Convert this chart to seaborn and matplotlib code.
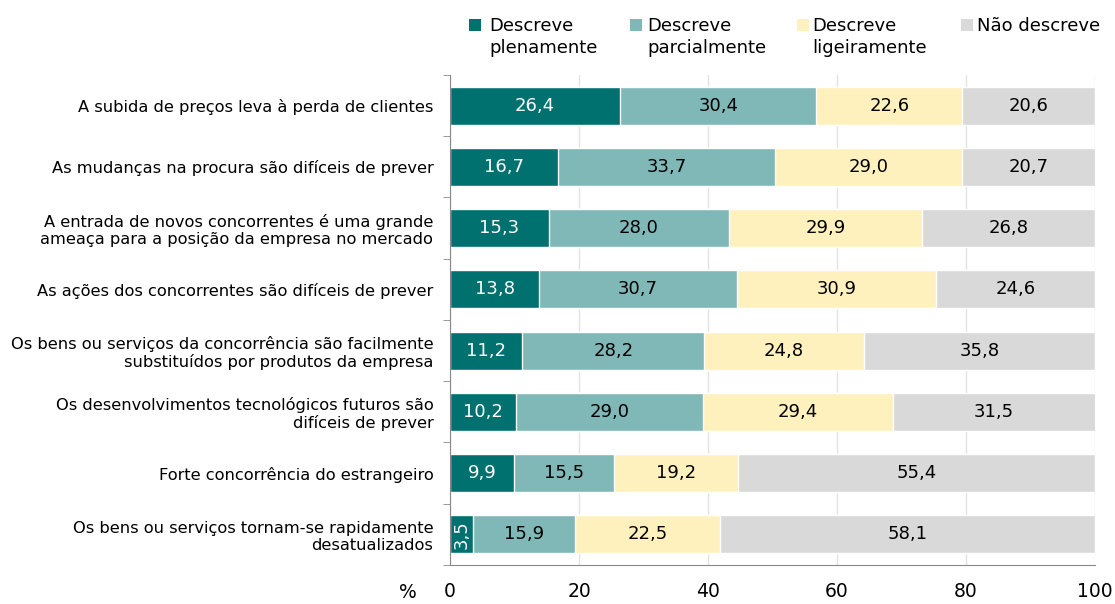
import numpy as np
import pandas as pd
import seaborn as sns
import matplotlib.pyplot as plt
from matplotlib.patches import Rectangle

# dados
categorias = [
    "A subida de preços leva à perda de clientes",
    "As mudanças na procura são difíceis de prever",
    "A entrada de novos concorrentes é uma grande\nameaça para a posição da empresa no mercado",
    "As ações dos concorrentes são difíceis de prever",
    "Os bens ou serviços da concorrência são facilmente\nsubstituídos por produtos da empresa",
    "Os desenvolvimentos tecnológicos futuros são\ndifíceis de prever",
    "Forte concorrência do estrangeiro",
    "Os bens ou serviços tornam-se rapidamente\ndesatualizados",
]
plenamente = [26.4, 16.7, 15.3, 13.8, 11.2, 10.2, 9.9, 3.5]
parcialmente = [30.4, 33.7, 28.0, 30.7, 28.2, 29.0, 15.5, 15.9]
ligeiramente = [22.6, 29.0, 29.9, 30.9, 24.8, 29.4, 19.2, 22.5]
nao_descreve = [20.6, 20.7, 26.8, 24.6, 35.8, 31.5, 55.4, 58.1]

series = ["Descreve\nplenamente", "Descreve\nparcialmente", "Descreve\nligeiramente", "Não descreve"]
cores = ["#00716F", "#80B8B7", "#FFF1BE", "#D9D9D9"]

df = pd.DataFrame({
    "cat": categorias,
    series[0]: plenamente,
    series[1]: parcialmente,
    series[2]: ligeiramente,
    series[3]: nao_descreve,
})
cum = df[series].cumsum(axis=1)

sns.set_style("white")
plt.rcParams["font.family"] = ["DejaVu Sans"]
plt.rcParams["text.color"] = "black"
plt.rcParams["xtick.labelcolor"] = "black"
plt.rcParams["ytick.labelcolor"] = "black"

W, H = 1115, 604
fig = plt.figure(figsize=(W / 100, H / 100), dpi=100)
ax = fig.add_axes([0.4036, 0.0646, 0.5785, 0.8114])

# barras empilhadas: desenhar do total acumulado para o primeiro
for s, c in reversed(list(zip(series, cores))):
    sns.barplot(x=cum[s], y=df["cat"], color=c, width=0.62, orient="h",
                ax=ax, saturation=1, zorder=2)

# etiquetas de valores
for i in range(len(df)):
    esq = 0
    for k, s in enumerate(series):
        v = df[s].iloc[i]
        txt = f"{v:.1f}".replace(".", ",")
        cor_txt = "white" if k == 0 else "black"
        rot = 90 if v < 5 else 0
        ax.text(esq + v / 2, i, txt, ha="center", va="center", rotation=rot,
                color=cor_txt, fontsize=13, zorder=3)
        esq += v

ax.set_xlim(0, 100)
ax.set_ylim(len(df) - 0.5, -0.5)
ax.set_xticks([0, 20, 40, 60, 80, 100])
ax.set_xlabel("")
ax.set_ylabel("")
ax.tick_params(axis="x", labelsize=13.5, length=5, color="#888888", pad=7)
ax.tick_params(axis="y", labelsize=11.7, length=0, pad=12)
ax.set_yticks(range(len(df)))
ax.set_yticklabels(categorias, linespacing=1.15)
ax.set_yticks(np.arange(-0.5, len(df), 1), minor=True)
ax.tick_params(axis="y", which="minor", length=5, color="#888888", left=True)
ax.grid(axis="x", color="#E3E3E3", linewidth=1, zorder=0)
ax.set_axisbelow(True)
for lado in ["top", "right"]:
    ax.spines[lado].set_visible(False)
for lado in ["left", "bottom"]:
    ax.spines[lado].set_color("#888888")

fig.text(408 / W, 1 - 592 / H, "%", fontsize=13.5, ha="center", va="center")

# legenda desenhada à mão (quadrado alinhado com a primeira linha)
leg_hx = [469, 630, 797, 961]
leg_tx = [489, 647, 812, 977]
for hx, tx, s, c in zip(leg_hx, leg_tx, series, cores):
    fig.patches.append(Rectangle((hx / W, 1 - 31 / H), 12 / W, 12 / H,
                                 transform=fig.transFigure, facecolor=c,
                                 edgecolor="none"))
    fig.text(tx / W, 1 - 17 / H, s, fontsize=13, ha="left", va="top",
             linespacing=1.3)

fig.savefig("out.png", dpi=100)
